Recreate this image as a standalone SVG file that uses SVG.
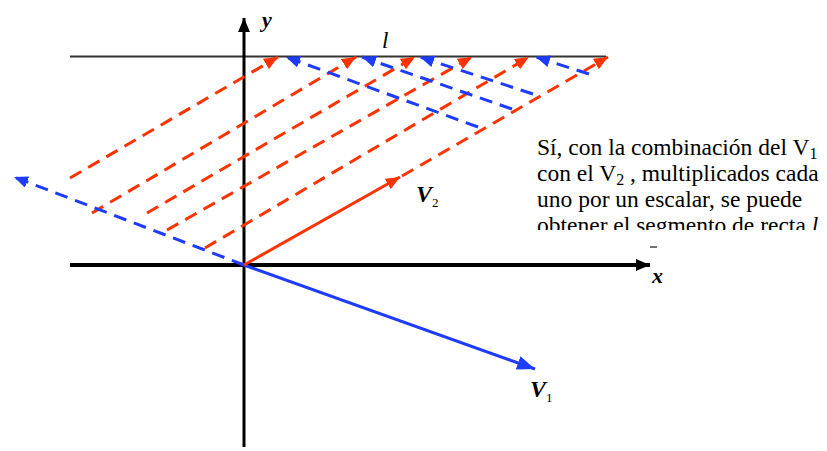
<svg xmlns="http://www.w3.org/2000/svg" width="827" height="451" viewBox="0 0 827 451">
<style>
.red{stroke:#ff3300;stroke-width:3;fill:none}
.blue{stroke:#1e3cff;stroke-width:3;fill:none}
.dash{stroke-dasharray:13 8}
.axis{stroke:#000;fill:none}
text{font-family:'Liberation Serif','Times New Roman','DejaVu Serif',serif}
.lbl{font-style:italic;font-weight:bold;fill:#000}
.il{font-style:italic;font-weight:normal;fill:#000}
.txt{font-size:23.5px;fill:#000}
</style>
<defs>
<marker id="ar" markerUnits="userSpaceOnUse" viewBox="0 0 14 12" refX="14" refY="6" markerWidth="14" markerHeight="12" orient="auto"><path d="M0,0 L14,6 L0,12 z" fill="#ff3300"/></marker>
<marker id="ab" markerUnits="userSpaceOnUse" viewBox="0 0 14 12" refX="14" refY="6" markerWidth="14" markerHeight="12" orient="auto"><path d="M0,0 L14,6 L0,12 z" fill="#1e3cff"/></marker>
<marker id="ab1" markerUnits="userSpaceOnUse" viewBox="0 0 18 14" refX="18" refY="7" markerWidth="18" markerHeight="14" orient="auto"><path d="M0,0 L18,7 L0,14 z" fill="#1e3cff"/></marker>
<marker id="ak" markerUnits="userSpaceOnUse" viewBox="0 0 14 12" refX="14" refY="6" markerWidth="14" markerHeight="12" orient="auto"><path d="M0,0 L14,6 L0,12 z" fill="#000"/></marker>
<clipPath id="tclip"><rect x="530" y="130" width="297" height="100"/></clipPath>
</defs>
<rect width="827" height="451" fill="#fff"/>
<g id="line-l">
<line x1="70" y1="56.5" x2="606" y2="56.5" stroke="#333" stroke-width="2"/>
<text class="il" font-family="Liberation Serif, serif" x="382" y="48" font-size="23">l</text>
</g>
<g id="axes">
<line class="axis" x1="70" y1="265" x2="650" y2="265" stroke-width="4" marker-end="url(#ak)"/>
<line class="axis" x1="244" y1="447" x2="244" y2="18" stroke-width="3" marker-end="url(#ak)"/>
<text class="lbl" font-family="Liberation Serif, serif" x="262" y="27" font-size="22">y</text>
<text class="lbl" font-family="Liberation Serif, serif" x="652" y="283" font-size="22">x</text>
<line x1="650" y1="247" x2="657" y2="247" stroke="#444" stroke-width="1.5"/>
</g>
<g id="connectors">
<line class="red dash" x1="70" y1="178" x2="278" y2="57" marker-end="url(#ar)"/>
<line class="red dash" x1="92" y1="213" x2="356" y2="57" marker-end="url(#ar)"/>
<line class="red dash" x1="147" y1="213" x2="415" y2="57" marker-end="url(#ar)"/>
<line class="red dash" x1="167" y1="230" x2="472" y2="57" marker-end="url(#ar)"/>
<line class="red dash" x1="205" y1="248" x2="529" y2="57" marker-end="url(#ar)"/>
<line class="red dash" x1="402" y1="176" x2="608" y2="57" marker-end="url(#ar)"/>
<line class="blue dash" x1="244" y1="265" x2="14" y2="177" marker-end="url(#ab)"/>
<line class="blue dash" x1="478" y1="127" x2="286" y2="57" marker-end="url(#ab)"/>
<line class="blue dash" x1="512" y1="109" x2="362" y2="57" marker-end="url(#ab)"/>
<line class="blue dash" x1="533" y1="94" x2="420" y2="57" marker-end="url(#ab)"/>
<line class="blue dash" x1="589" y1="74" x2="536" y2="57" marker-end="url(#ab)"/>
</g>
<g id="v1">
<line class="blue" x1="244" y1="265" x2="535" y2="369" stroke-width="5" marker-end="url(#ab1)"/>
<text class="lbl" font-family="Liberation Serif, serif" x="530" y="397" font-size="24">V<tspan font-size="13" font-style="normal" font-weight="normal" dy="5">1</tspan></text>
</g>
<g id="v2">
<line class="red" x1="244" y1="265" x2="400" y2="177" marker-end="url(#ar)"/>
<text class="lbl" font-family="Liberation Serif, serif" x="416" y="202" font-size="24">V<tspan font-size="13" font-style="normal" font-weight="normal" dy="5">2</tspan></text>
</g>
<g id="caption" clip-path="url(#tclip)" font-family="Liberation Serif, serif">
<text class="txt" x="537" y="155">Sí, con la combinación del V<tspan font-size="16" dy="4">1</tspan></text>
<text class="txt" x="537" y="181">con el V<tspan font-size="16" dy="4">2</tspan><tspan dy="-4"> , multiplicados cada</tspan></text>
<text class="txt" x="537" y="207">uno por un escalar, se puede</text>
<text class="txt" x="537" y="233">obtener el segmento de recta <tspan font-style="italic">l</tspan></text>
</g>
</svg>
